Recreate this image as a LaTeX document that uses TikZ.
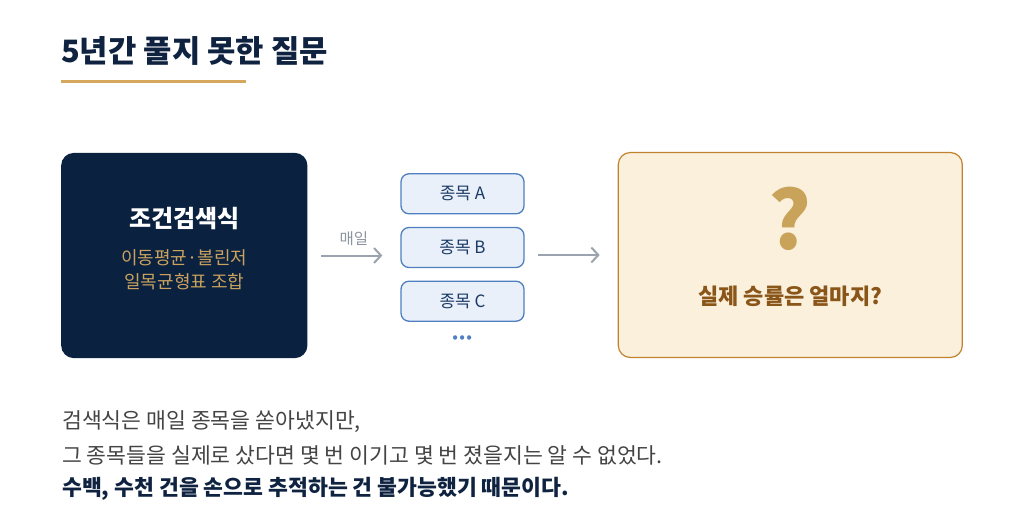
\documentclass[tikz,border=0pt]{standalone}
\usepackage{fontspec}
\setmainfont{Noto Sans CJK KR}
\usetikzlibrary{arrows.meta}
\definecolor{navy}{HTML}{0F2341}
\definecolor{boxnavy}{HTML}{0B2140}
\definecolor{gold}{HTML}{D4A95E}
\definecolor{subgold}{HTML}{C9A25E}
\definecolor{arrowgray}{HTML}{9AA3AE}
\definecolor{labelgray}{HTML}{8C949E}
\definecolor{stockfill}{HTML}{E9F0F9}
\definecolor{stockline}{HTML}{4F7FBF}
\definecolor{stocktext}{HTML}{1B3A66}
\definecolor{goalfill}{HTML}{FAF0DC}
\definecolor{goalline}{HTML}{C2822E}
\definecolor{qgold}{HTML}{C9A35A}
\definecolor{goaltext}{HTML}{8A5518}
\definecolor{bodygray}{HTML}{444444}

\begin{document}
\begin{tikzpicture}[x=1pt, y=-1pt,
    bigbox/.style={rounded corners=12pt, minimum width=244pt, minimum height=204pt, line width=1.2pt},
    stockbox/.style={draw=stockline, fill=stockfill, rounded corners=8pt, minimum width=123pt, minimum height=40pt, line width=1.3pt, text=stocktext, font=\fontsize{17}{20}\selectfont},
    flow/.style={draw=arrowgray, line width=2pt, -{Straight Barb[length=7pt,width=15pt]}},
    bodytext/.style={anchor=west, inner sep=0pt, font=\fontsize{21.6}{26}\selectfont}]
    \useasboundingbox (0,0) rectangle (1024,532);

    \node[anchor=west, inner sep=0pt, text=navy, font=\fontsize{30.8}{36}\selectfont\bfseries] (title) at (61, 51) {5년간 풀지 못한 질문};
    \coordinate (ulstart) at (61, 81.5);
    \coordinate (ulend) at (245.5, 81.5);
    \draw[gold, line width=3pt] (ulstart) -- (ulend);

    \node[bigbox, fill=boxnavy, draw=boxnavy, minimum width=245pt] (cond) at (184.3, 255.5) {};
    \node[text=white, font=\fontsize{24}{28}\selectfont\bfseries] (condname) at (184.3, 218.5) {조건검색식};
    \node[text=subgold, align=center, font=\fontsize{18}{24}\selectfont] (condsub) at (184.3, 270) {이동평균·볼린저\\일목균형표 조합};

    \node[stockbox] (stockA) at (462.5, 193.8) {종목 A};
    \node[stockbox] (stockB) at (462.5, 247.5) {종목 B};
    \node[stockbox] (stockC) at (462.5, 301.2) {종목 C};
    \node[text=stockline, font=\fontsize{20}{20}\selectfont\bfseries] (dots) at (462.5, 341) {·\hspace{-5pt}·\hspace{-5pt}·};

    \node[bigbox, fill=goalfill, draw=goalline, minimum width=344pt, minimum height=205pt] (goal) at (790.3, 255) {};
    \node[text=qgold, font=\fontsize{80}{90}\selectfont\bfseries] (qmark) at (790.3, 218.5) {?};
    \node[text=goaltext, font=\fontsize{22}{26}\selectfont\bfseries] (goalq) at (790.3, 296.5) {실제 승률은 얼마지?};

    \draw[flow, shorten <=14pt, shorten >=18pt] (cond.east) -- (cond.east -| stockB.west) node [pos=0.5, above=5pt, text=labelgray, font=\fontsize{15.5}{18}\selectfont] {매일};
    \draw[flow, shorten <=13pt, shorten >=18pt] (goal.west -| stockB.east) -- (goal.west);

    \node[bodytext, text=bodygray] (line1) at (62, 422) {검색식은 매일 종목을 쏟아냈지만,};
    \node[bodytext, text=bodygray] (line2) at (62, 455) {그 종목들을 실제로 샀다면 몇 번 이기고 몇 번 졌을지는 알 수 없었다.};
    \node[bodytext, text=navy, font=\fontsize{21.6}{26}\selectfont\bfseries] (line3) at (62, 488.5) {수백, 수천 건을 손으로 추적하는 건 불가능했기 때문이다.};

\end{tikzpicture}
\end{document}
